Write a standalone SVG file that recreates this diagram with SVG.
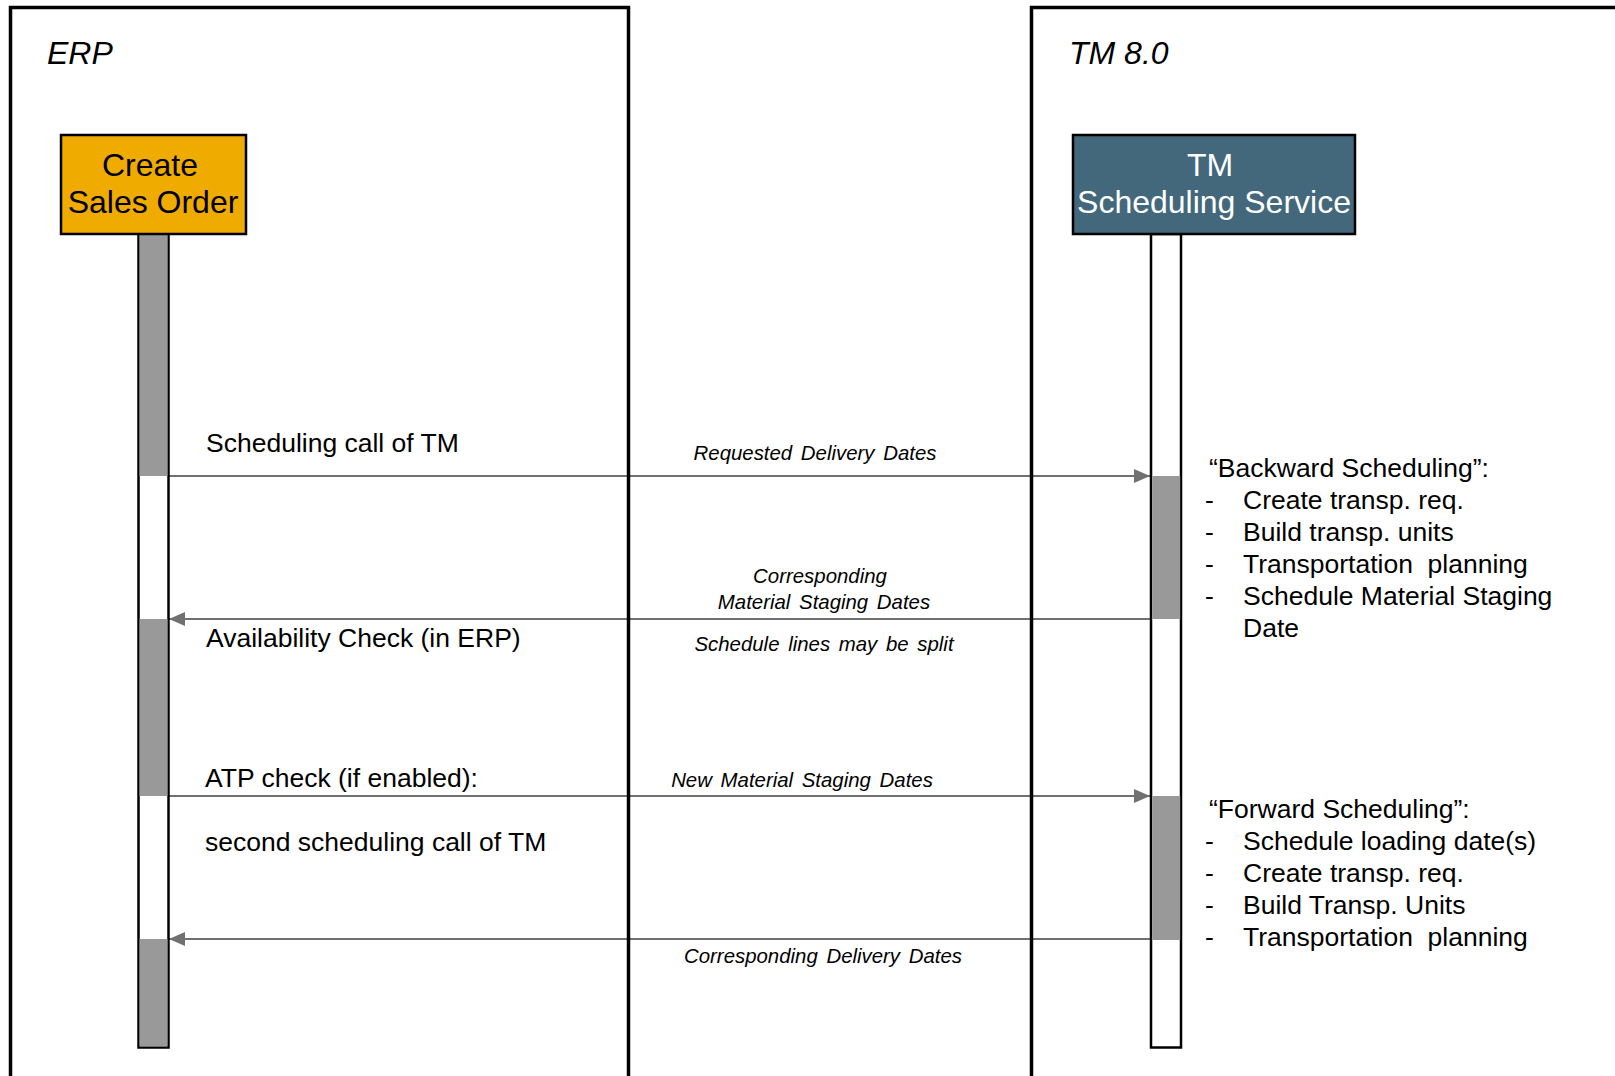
<svg xmlns="http://www.w3.org/2000/svg" width="1615" height="1076" viewBox="0 0 1615 1076">
<style>
text{font-family:"Liberation Sans",Arial,sans-serif;fill:#000}
.sys{font-size:32px;font-style:italic}
.node{font-size:32px;text-anchor:middle}
.lbl{font-size:26.5px}
.msg{font-size:20.4px;font-style:italic;text-anchor:middle;word-spacing:3px}
.frame{fill:none;stroke:#000;stroke-width:3.5}
.life{stroke:#000;stroke-width:2.5}
.act{fill:#999999}
.arr{stroke:#707070;stroke-width:2.2;fill:none}
</style>
<defs>
<marker id="ah" markerUnits="userSpaceOnUse" markerWidth="16" markerHeight="14" refX="16" refY="7" orient="auto">
<path d="M0,0 L16,7 L0,14 Z" fill="#707070"/>
</marker>
</defs>
<rect width="1615" height="1076" fill="#fff"/>
<g id="connectors">
<line class="arr" x1="169" y1="476" x2="1150" y2="476" marker-end="url(#ah)"/>
<line class="arr" x1="1150" y1="619" x2="169" y2="619" marker-end="url(#ah)"/>
<line class="arr" x1="169" y1="796" x2="1150" y2="796" marker-end="url(#ah)"/>
<line class="arr" x1="1150" y1="939" x2="169" y2="939" marker-end="url(#ah)"/>
</g>
<g id="erp-frame">
<rect class="frame" x="10.5" y="7.5" width="618" height="1090"/>
<text class="sys" x="47" y="64">ERP</text>
</g>
<g id="tm-frame">
<rect class="frame" x="1031.5" y="7.5" width="640" height="1090"/>
<text class="sys" x="1069" y="64">TM 8.0</text>
</g>
<g id="erp-lifeline">
<rect x="138.5" y="234" width="30" height="813.5" fill="#fff" class="life"/>
<rect class="act" x="139.5" y="234" width="28" height="242"/>
<rect class="act" x="139.5" y="619" width="28" height="177"/>
<rect class="act" x="139.5" y="939" width="28" height="107.5"/>
</g>
<g id="tm-lifeline">
<rect x="1151" y="234" width="30" height="813.5" fill="#fff" class="life"/>
<rect class="act" x="1152.2" y="476" width="28" height="143"/>
<rect class="act" x="1152.2" y="796" width="28" height="144"/>
</g>
<g id="create-sales-order">
<rect x="61" y="135" width="185" height="99" fill="#F0AB00" stroke="#000" stroke-width="2.5"/>
<text class="node" x="150" y="176">Create</text>
<text class="node" x="153" y="213">Sales Order</text>
</g>
<g id="tm-scheduling-service">
<rect x="1073" y="135" width="282" height="99" fill="#43687C" stroke="#000" stroke-width="2.5"/>
<text class="node" x="1210" y="176" style="fill:#fff">TM</text>
<text class="node" x="1214" y="213" style="fill:#fff">Scheduling Service</text>
</g>
<g id="erp-labels">
<text class="lbl" x="206" y="452">Scheduling call of TM</text>
<text class="lbl" x="206" y="647">Availability Check (in ERP)</text>
<text class="lbl" x="205" y="787">ATP check (if enabled):</text>
<text class="lbl" x="205" y="851">second scheduling call of TM</text>
</g>
<g id="message-labels">
<text class="msg" x="815" y="460">Requested Delivery Dates</text>
<text class="msg" x="820" y="583">Corresponding</text>
<text class="msg" x="824" y="609">Material Staging Dates</text>
<text class="msg" x="824" y="651">Schedule lines may be split</text>
<text class="msg" x="802" y="787">New Material Staging Dates</text>
<text class="msg" x="823" y="963">Corresponding Delivery Dates</text>
</g>
<g id="backward-note">
<text class="lbl" x="1209" y="477">“Backward Scheduling”:</text>
<text class="lbl" x="1205" y="509">-</text><text class="lbl" x="1243" y="509">Create transp. req.</text>
<text class="lbl" x="1205" y="541">-</text><text class="lbl" x="1243" y="541">Build transp. units</text>
<text class="lbl" x="1205" y="573">-</text><text class="lbl" x="1243" y="573">Transportation&#160; planning</text>
<text class="lbl" x="1205" y="605">-</text><text class="lbl" x="1243" y="605">Schedule Material Staging</text>
<text class="lbl" x="1243" y="637">Date</text>
</g>
<g id="forward-note">
<text class="lbl" x="1209" y="818">“Forward Scheduling”:</text>
<text class="lbl" x="1205" y="850">-</text><text class="lbl" x="1243" y="850">Schedule loading date(s)</text>
<text class="lbl" x="1205" y="882">-</text><text class="lbl" x="1243" y="882">Create transp. req.</text>
<text class="lbl" x="1205" y="914">-</text><text class="lbl" x="1243" y="914">Build Transp. Units</text>
<text class="lbl" x="1205" y="946">-</text><text class="lbl" x="1243" y="946">Transportation&#160; planning</text>
</g>
</svg>
